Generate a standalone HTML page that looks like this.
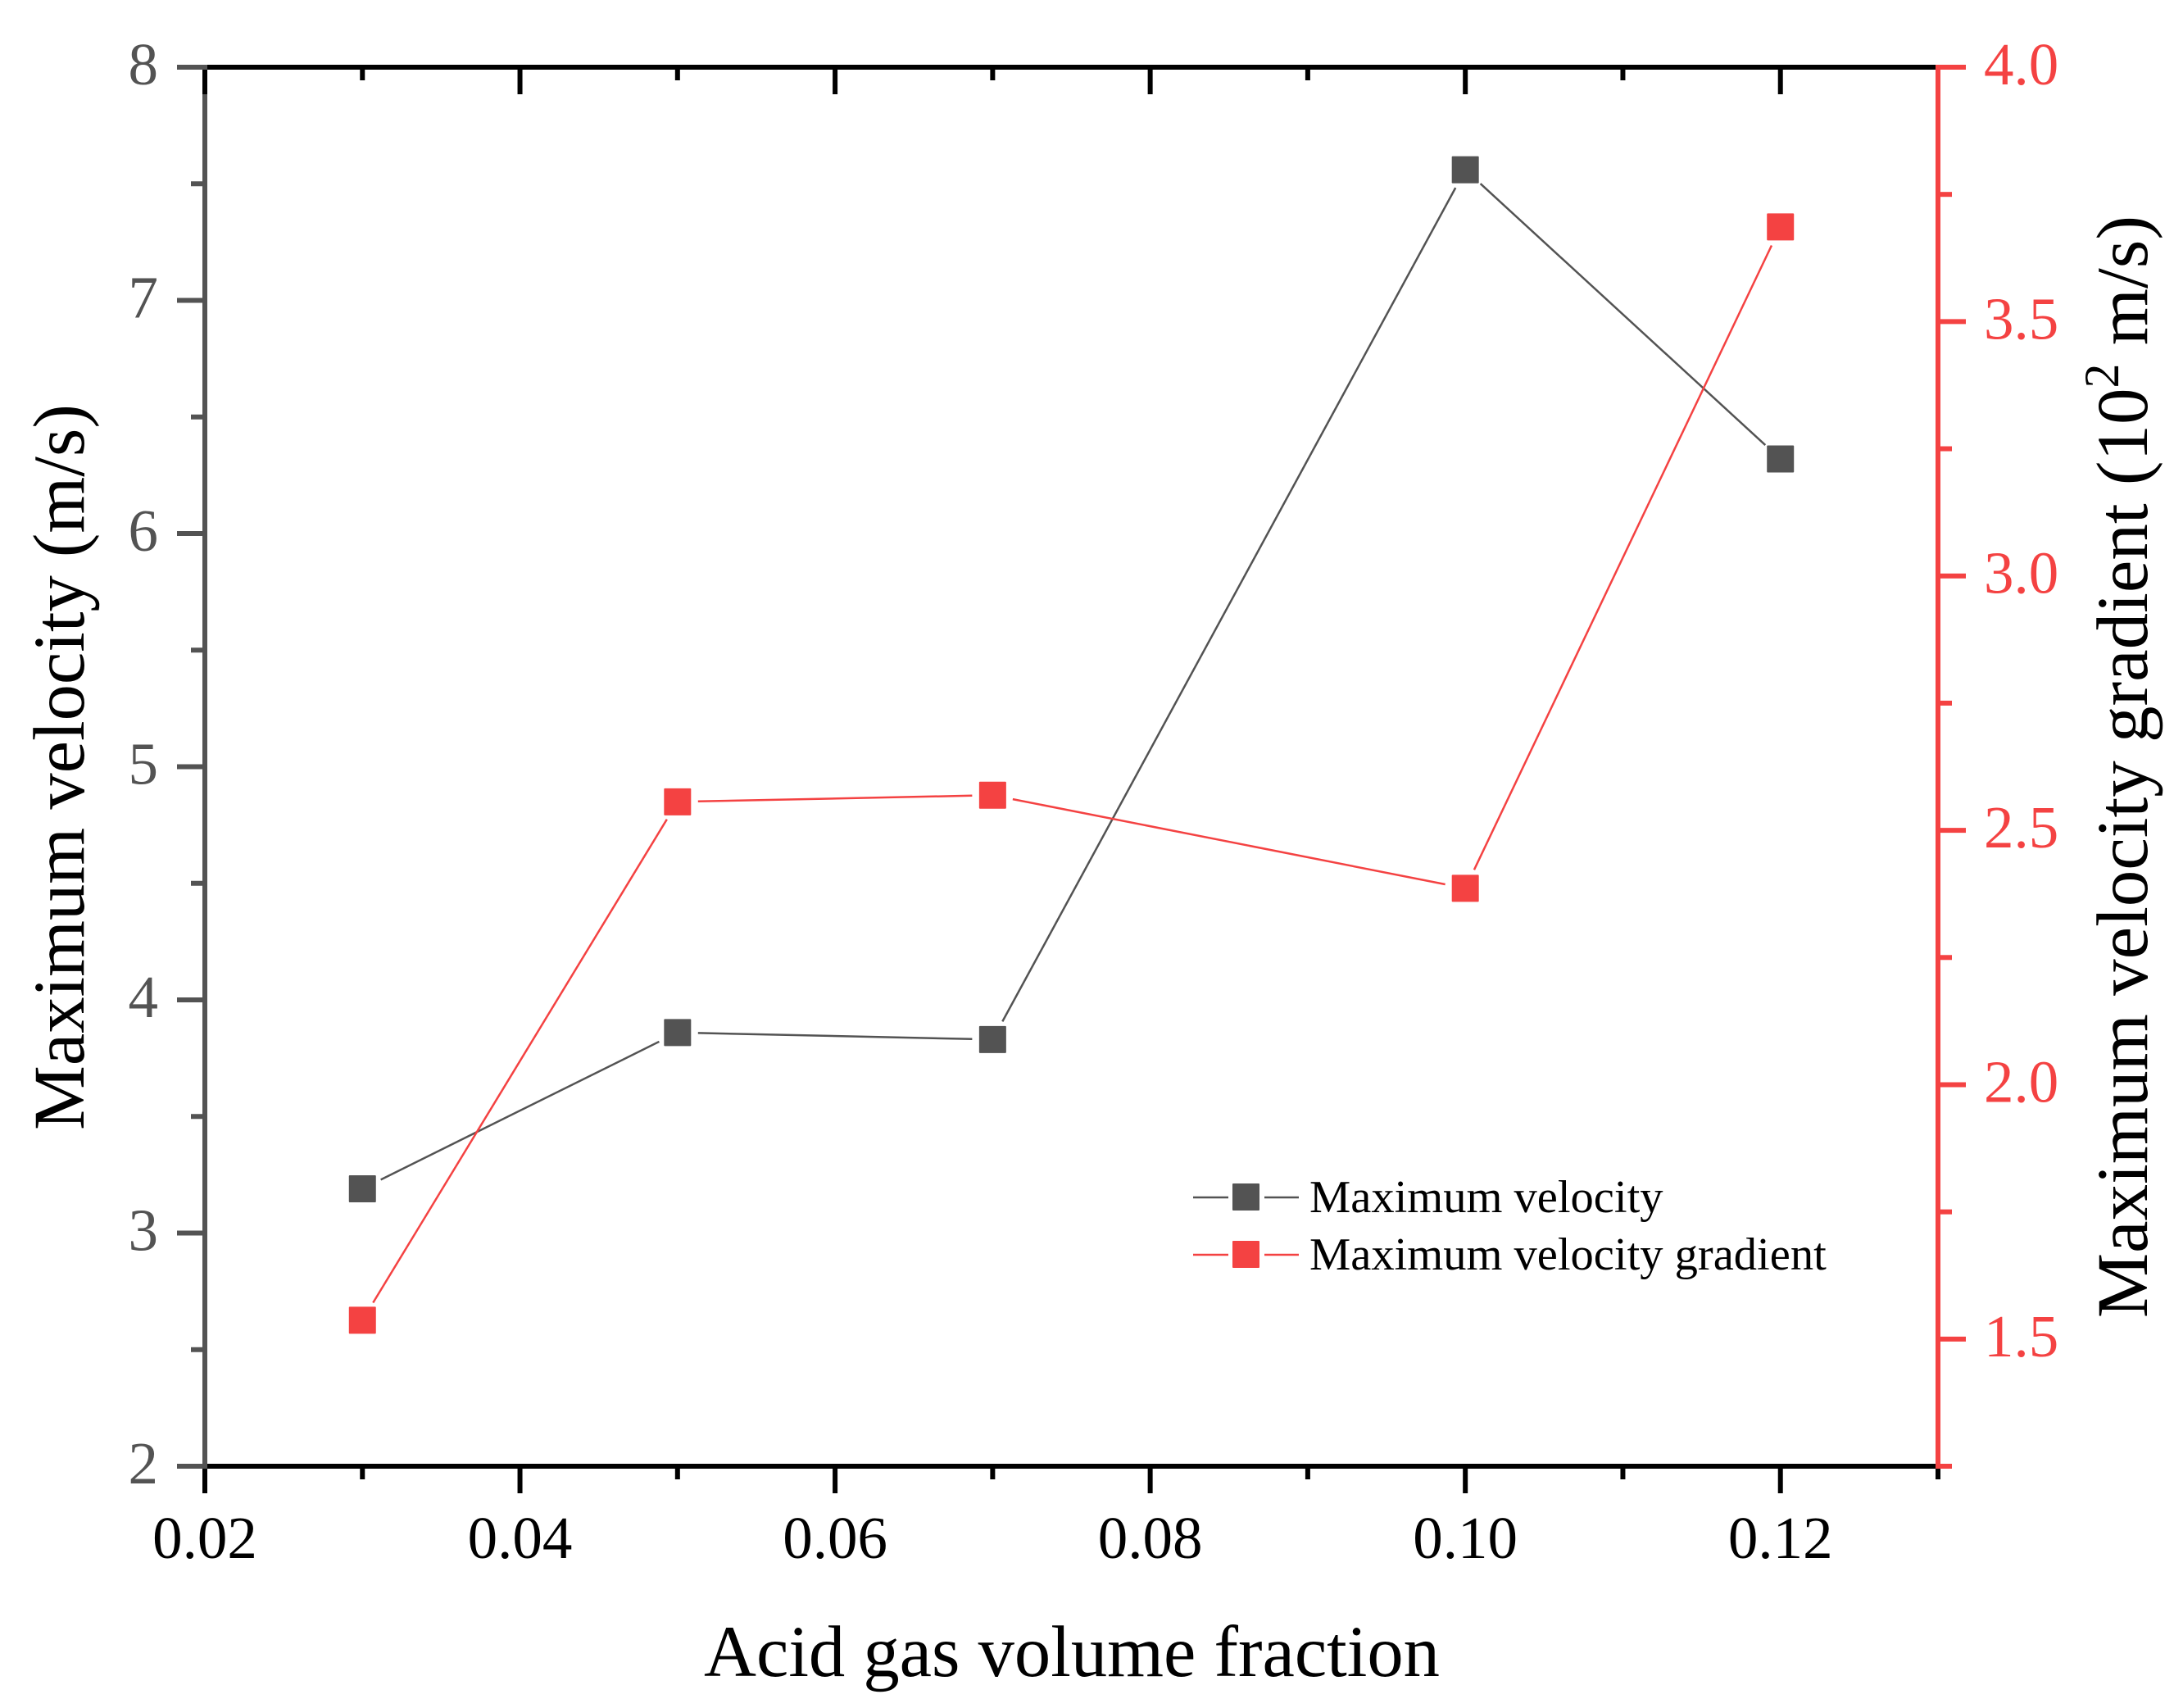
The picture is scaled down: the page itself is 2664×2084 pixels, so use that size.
<!DOCTYPE html>
<html lang="en">
<head>
<meta charset="utf-8">
<title>Maximum velocity and velocity gradient vs acid gas volume fraction</title>
<style>
html,body{margin:0;padding:0;background:#fff;}
body{width:2664px;height:2084px;overflow:hidden;}
svg{display:block;}
text{font-family:"Liberation Serif","Times New Roman",serif;}
</style>
</head>
<body>
<svg id="chart" xmlns="http://www.w3.org/2000/svg" width="2664" height="2084" viewBox="0 0 2664 2084">
  <rect x="0" y="0" width="2664" height="2084" fill="#ffffff"/>
  <g id="ticks"></g>
  <g id="axes"></g>
  <g id="series"></g>
  <g id="labels"></g>
  <text x="1308" y="2045" text-anchor="middle" font-size="88.6" fill="#000">Acid gas volume fraction</text>
  <text transform="translate(102 936) rotate(-90)" text-anchor="middle" font-size="88.6" fill="#000">Maximum velocity (m/s)</text>
  <text transform="translate(2620 1608) rotate(-90)" font-size="89" fill="#000">Maximum velocity gradient (10<tspan font-size="60" dy="-35">2</tspan><tspan dy="35"> m/s)</tspan></text>
  <g>
    <line x1="1456" y1="1461" x2="1499" y2="1461" stroke="#535353" stroke-width="2.5"/>
    <line x1="1543" y1="1461" x2="1585" y2="1461" stroke="#535353" stroke-width="2.5"/>
    <rect x="1504" y="1444" width="33" height="33" rx="1" fill="#535353"/>
    <text x="1598" y="1479" font-size="56.5" fill="#000">Maximum velocity</text>
    <line x1="1456" y1="1531" x2="1499" y2="1531" stroke="#F44242" stroke-width="2.5"/>
    <line x1="1543" y1="1531" x2="1585" y2="1531" stroke="#F44242" stroke-width="2.5"/>
    <rect x="1504" y="1514" width="33" height="33" rx="1" fill="#F44242"/>
    <text x="1598" y="1549" font-size="56.5" fill="#000">Maximum velocity gradient</text>
  </g>
</svg>
<script>
var categories = [0.03, 0.05, 0.07, 0.10, 0.12];
var velocityValues = [3.19, 3.86, 3.83, 7.56, 6.32];
var gradientValues = [1.537, 2.556, 2.569, 2.386, 3.686];
var xTickValues = [0.02, 0.04, 0.06, 0.08, 0.10, 0.12];
var xTickLabels = ['0.02', '0.04', '0.06', '0.08', '0.10', '0.12'];
var xMinorTickValues = [0.03, 0.05, 0.07, 0.09, 0.11, 0.13];
var leftTickValues = [2, 3, 4, 5, 6, 7, 8];
var leftTickLabels = ['2', '3', '4', '5', '6', '7', '8'];
var leftMinorTickValues = [2.5, 3.5, 4.5, 5.5, 6.5, 7.5];
var rightTickValues = [1.5, 2.0, 2.5, 3.0, 3.5, 4.0];
var rightTickLabels = ['1.5', '2.0', '2.5', '3.0', '3.5', '4.0'];
var rightMinorTickValues = [1.25, 1.75, 2.25, 2.75, 3.25, 3.75];

var GRAY = '#535353', RED = '#F44242', BLACK = '#000000';
var PLOT = {left: 250, right: 2365, top: 82, bottom: 1789};
var X_DOMAIN = [0.02, 0.13], LEFT_DOMAIN = [2, 8], RIGHT_DOMAIN = [1.25, 4];
var NS = 'http://www.w3.org/2000/svg';

function xScale(v) { return PLOT.left + (v - X_DOMAIN[0]) / (X_DOMAIN[1] - X_DOMAIN[0]) * (PLOT.right - PLOT.left); }
function leftScale(v) { return PLOT.bottom - (v - LEFT_DOMAIN[0]) / (LEFT_DOMAIN[1] - LEFT_DOMAIN[0]) * (PLOT.bottom - PLOT.top); }
function rightScale(v) { return PLOT.bottom - (v - RIGHT_DOMAIN[0]) / (RIGHT_DOMAIN[1] - RIGHT_DOMAIN[0]) * (PLOT.bottom - PLOT.top); }

function svgEl(tag, attrs, parent) {
  var el = document.createElementNS(NS, tag);
  for (var k in attrs) { el.setAttribute(k, attrs[k]); }
  parent.appendChild(el);
  return el;
}

var ticksG = document.getElementById('ticks');
var axesG = document.getElementById('axes');
var seriesG = document.getElementById('series');
var labelsG = document.getElementById('labels');

function axisLine(x1, y1, x2, y2, color, name) {
  var el = svgEl('line', {x1: x1, y1: y1, x2: x2, y2: y2, stroke: color, 'stroke-width': 6}, axesG);
  
  
}
function tickLine(x1, y1, x2, y2, color, name, parent) {
  var el = svgEl('line', {x1: x1, y1: y1, x2: x2, y2: y2, stroke: color, 'stroke-width': 6}, parent || ticksG);
  
  
}
function label(x, y, txt, anchor, color, name) {
  var el = svgEl('text', {x: x, y: y, 'text-anchor': anchor, 'font-size': 73, fill: color}, labelsG);
  el.textContent = txt;
  
  
}

// axis frame: bottom and top black, left gray, right red
axisLine(PLOT.left - 3, PLOT.bottom, PLOT.right + 3, PLOT.bottom, BLACK, 'x-axis-bottom-line');
axisLine(PLOT.left - 3, PLOT.top, PLOT.right + 3, PLOT.top, BLACK, 'x-axis-top-line');

// left y axis
axisLine(PLOT.left, PLOT.top - 3, PLOT.left, PLOT.bottom + 3, GRAY, 'left-y-axis-line');
leftTickValues.forEach(function (v, i) {
  var y = leftScale(v);
  tickLine(216, y, PLOT.left - 3, y, GRAY, 'left-y-major-tick', axesG);
  label(193, y + 21, leftTickLabels[i], 'end', GRAY, 'left-y-tick-label');
});
leftMinorTickValues.forEach(function (v) {
  var y = leftScale(v);
  tickLine(233, y, PLOT.left - 3, y, GRAY, 'left-y-minor-tick', axesG);
});

// x ticks, bottom and top mirrored
xTickValues.forEach(function (v, i) {
  var x = xScale(v);
  tickLine(x, PLOT.bottom + 3, x, 1822, BLACK, 'x-major-tick-bottom', axesG);
  tickLine(x, PLOT.top + 3, x, 115, BLACK, 'x-major-tick-top', axesG);
  label(x, 1901, xTickLabels[i], 'middle', BLACK, 'x-tick-label');
});
xMinorTickValues.forEach(function (v) {
  var x = xScale(v);
  tickLine(x, PLOT.bottom + 3, x, 1805, BLACK, 'x-minor-tick-bottom', axesG);
  tickLine(x, PLOT.top + 3, x, 98, BLACK, 'x-minor-tick-top', axesG);
});

// right y axis
axisLine(PLOT.right, PLOT.top - 3, PLOT.right, PLOT.bottom + 3, RED, 'right-y-axis-line');
rightTickValues.forEach(function (v, i) {
  var y = rightScale(v);
  tickLine(PLOT.right + 3, y, 2399, y, RED, 'right-y-major-tick', axesG);
  label(2421, y + 21, rightTickLabels[i], 'start', RED, 'right-y-tick-label');
});
rightMinorTickValues.forEach(function (v) {
  var y = rightScale(v);
  tickLine(PLOT.right + 3, y, 2382, y, RED, 'right-y-minor-tick', axesG);
});

// series: segments stop short of the markers
function drawSeries(values, yFn, color, name) {
  var GAP = 25;
  var pts = values.map(function (v, i) { return [xScale(categories[i]), yFn(v)]; });
  for (var i = 0; i < pts.length - 1; i++) {
    var a = pts[i], b = pts[i + 1];
    var dx = b[0] - a[0], dy = b[1] - a[1], d = Math.sqrt(dx * dx + dy * dy);
    var ux = dx / d, uy = dy / d;
    var seg = svgEl('line', {x1: a[0] + ux * GAP, y1: a[1] + uy * GAP, x2: b[0] - ux * GAP, y2: b[1] - uy * GAP, stroke: color, 'stroke-width': 2.5}, seriesG);
    
    
  }
  pts.forEach(function (p) {
    var m = svgEl('rect', {x: p[0] - 16.5, y: p[1] - 16.5, width: 33, height: 33, rx: 1, fill: color}, seriesG);
    
    
  });
}
drawSeries(velocityValues, leftScale, GRAY, 'maximum-velocity');
drawSeries(gradientValues, rightScale, RED, 'maximum-velocity-gradient');
</script>
</body>
</html>
